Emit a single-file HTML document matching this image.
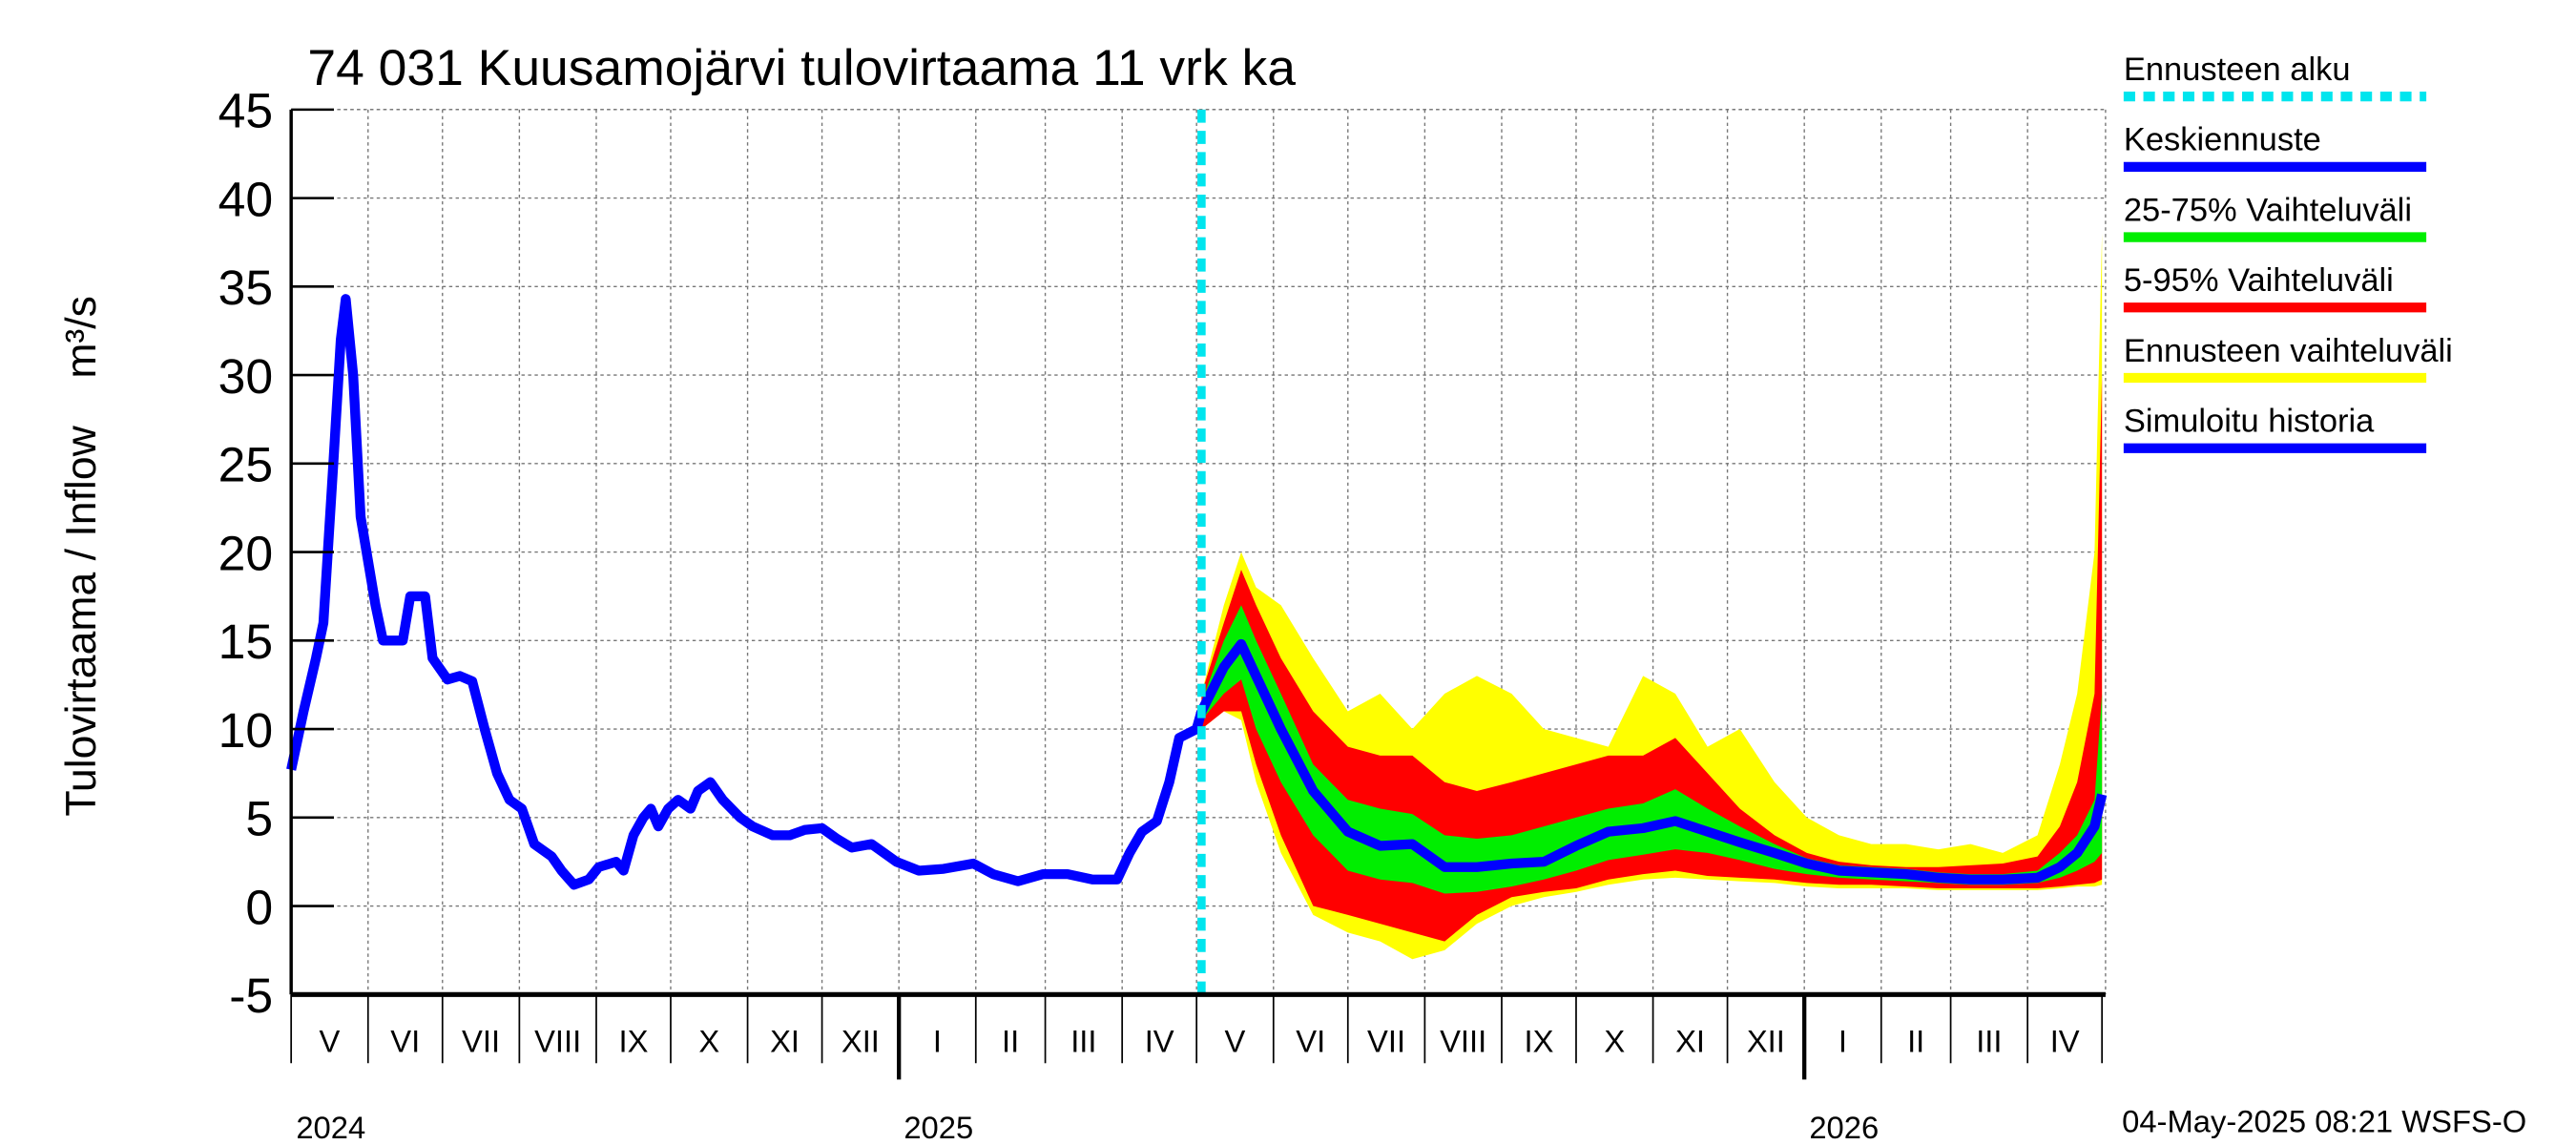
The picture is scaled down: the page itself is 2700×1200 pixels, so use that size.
<!DOCTYPE html>
<html><head><meta charset="utf-8"><style>
html,body{margin:0;padding:0;background:#fff;}
svg{display:block;font-family:"Liberation Sans",sans-serif;}
</style></head><body>
<svg id="chart" width="2700" height="1200" viewBox="0 0 1566 700" preserveAspectRatio="none" xmlns="http://www.w3.org/2000/svg">
<rect x="0" y="0" width="1566" height="700" fill="#fff"/>
<g id="grid"></g>
<g id="bands"></g>
<g id="lines"></g>
<g id="axes"></g>
<text x="187" y="52" font-size="31">74 031 Kuusamojärvi tulovirtaama 11 vrk ka</text>
<text transform="translate(58,340) rotate(-90)" text-anchor="middle" font-size="26" xml:space="preserve">Tulovirtaama / Inflow    m³/s</text>
<text x="1290" y="692" font-size="19">04-May-2025 08:21 WSFS-O</text>
<g id="legend"></g>
</svg>
<script>
const histDays=[0,5,10,13,17,20,22,25,28,34,37,42,45,48,54,57,63,68,73,78,83,88,93,98,105,109,114,120,124,131,134,138,142,145,148,152,156,161,164,169,174,181,186,194,201,207,214,220,226,234,244,253,263,275,283,293,303,313,323,333,338,343,349,354,358,365,367];
const histVals=[7.7,11,14,16,25,32,34.3,30,22,17,15,15,15,17.5,17.5,14,12.8,13,12.7,10,7.5,6,5.5,3.5,2.8,2,1.2,1.5,2.2,2.5,2,4,5,5.5,4.5,5.5,6,5.5,6.5,7,6,5,4.5,4,4,4.3,4.4,3.8,3.3,3.5,2.5,2.0,2.1,2.4,1.8,1.4,1.8,1.8,1.5,1.5,3,4.2,4.8,7,9.5,10,11];
const fcDays=[367,376,383,389,399,412,426,439,452,465,478,492,505,518,531,545,558,571,584,598,611,624,637,651,664,677,690,704,713,720,727,730];
const fcMedian=[11,13.5,14.8,13,10,6.5,4.2,3.4,3.5,2.2,2.2,2.4,2.5,3.4,4.2,4.4,4.8,4.2,3.6,3.0,2.4,2.0,1.9,1.8,1.6,1.5,1.5,1.6,2.2,3.0,4.5,6.3];
const fcP75=[11.5,15,17,15,12,8,6,5.5,5.2,4,3.8,4,4.5,5,5.5,5.8,6.6,5.5,4.5,3.5,2.7,2.3,2.2,2.1,1.9,1.8,1.8,2,3,4,6,12];
const fcP25=[10.5,12,12.8,10,7,4,2,1.5,1.3,0.7,0.8,1.1,1.5,2,2.6,2.9,3.2,3.0,2.6,2.1,1.8,1.6,1.5,1.4,1.3,1.2,1.2,1.3,1.6,2,2.5,3];
const fcP95=[12,16,19,17,14,11,9,8.5,8.5,7,6.5,7,7.5,8,8.5,8.5,9.5,7.5,5.5,4,3,2.5,2.3,2.2,2.2,2.3,2.4,2.8,4.5,7,12,30];
const fcP5=[10,11,11,8,4,0,-0.5,-1,-1.5,-2,-0.5,0.5,0.8,1,1.5,1.8,2,1.7,1.6,1.5,1.3,1.2,1.2,1.1,1,1,1,1,1.1,1.2,1.3,1.5];
const fcMax=[12,17,20,18,17,14,11,12,10,12,13,12,10,9.5,9,13,12,9,10,7,5,4,3.5,3.5,3.2,3.5,3,4,8,12,20,38];
const fcMin=[10,11,10.5,7,3,-0.5,-1.5,-2,-3,-2.5,-1,0,0.5,0.8,1.2,1.5,1.6,1.5,1.4,1.3,1.1,1,1,1,0.9,0.9,0.9,0.9,1,1.1,1.1,1.2];
const yTicks=[-5,0,5,10,15,20,25,30,35,40,45];
const monthNames=["I","II","III","IV","V","VI","VII","VIII","IX","X","XI","XII"];
const forecastStartDay=367;

const NS="http://www.w3.org/2000/svg";
const L=177,R=1280,T=67,B=608;
const x=d=>L+d*1.508;
const y=v=>T+(45-v)*(B-T)/50;
function mk(tag,attrs,parent){const e=document.createElementNS(NS,tag);for(const k in attrs)e.setAttribute(k,attrs[k]);parent.appendChild(e);return e;}
const grid=document.getElementById('grid'),axes=document.getElementById('axes'),bands=document.getElementById('bands'),lines=document.getElementById('lines'),legend=document.getElementById('legend');

yTicks.forEach(v=>{
  const g=mk('line',{x1:L,x2:R,y1:y(v),y2:y(v),stroke:'#777','stroke-width':0.8,'stroke-dasharray':'2,2'},grid);
  
  
  const t=mk('line',{x1:L,x2:L+26,y1:y(v),y2:y(v),stroke:'#000','stroke-width':1.5},axes);
  
  
  const lb=mk('text',{x:166,y:y(v)+11,'text-anchor':'end','font-size':30},axes);
  lb.textContent=v;
  
  
});
const start=new Date(Date.UTC(2024,4,1));
for(let m=0;m<=24;m++){
  const dt=new Date(Date.UTC(2024,4+m,1));
  const d=(dt-start)/864e5;
  const xx=x(d);
  const isYear=dt.getUTCMonth()===0;
  if(m>0&&m<24){
    const g=mk('line',{x1:xx,x2:xx,y1:T,y2:B,stroke:'#777','stroke-width':0.8,'stroke-dasharray':'2,2'},grid);
    
    
  }
  const tk=mk('line',{x1:xx,x2:xx,y1:B,y2:isYear?660:650,stroke:'#000','stroke-width':isYear?2.5:1},axes);
  
  
  if(m<24){
    const nd=new Date(Date.UTC(2024,5+m,1));const d2=(nd-start)/864e5;
    const lb=mk('text',{x:(x(d)+x(d2))/2,y:643,'text-anchor':'middle','font-size':19},axes);
    lb.textContent=monthNames[dt.getUTCMonth()];
    
    
  }
  if(m===0||isYear){
    const yl=mk('text',{x:xx+3,y:696,'font-size':19},axes);
    yl.textContent=dt.getUTCFullYear();
    
    
  }
}
mk('line',{x1:L,x2:R,y1:T,y2:T,stroke:'#777','stroke-width':0.8,'stroke-dasharray':'2,2'},grid);
mk('line',{x1:R,x2:R,y1:T,y2:B,stroke:'#777','stroke-width':0.8,'stroke-dasharray':'2,2'},grid);

function band(lo,hi,color,name){
  let p='M'+fcDays.map((d,i)=>x(d)+','+y(hi[i])).join(' L');
  p+=' L'+fcDays.map((d,i)=>[d,i]).reverse().map(([d,i])=>x(d)+','+y(lo[i])).join(' L')+' Z';
  const e=mk('path',{d:p,fill:color},bands);
  
  
}
band(fcMin,fcMax,'#ffff00','forecast-range-band');
band(fcP5,fcP95,'#ff0000','band-5-95');
band(fcP25,fcP75,'#00ee00','band-25-75');

const h=mk('polyline',{points:histDays.map((d,i)=>x(d)+','+y(histVals[i])).join(' '),fill:'none',stroke:'#0000ff','stroke-width':6,'stroke-linejoin':'round'},lines);


const md=mk('polyline',{points:fcDays.map((d,i)=>x(d)+','+y(fcMedian[i])).join(' '),fill:'none',stroke:'#0000ff','stroke-width':6,'stroke-linejoin':'round'},lines);


const fs=mk('line',{x1:x(forecastStartDay),x2:x(forecastStartDay),y1:T,y2:B,stroke:'#00e5ee','stroke-width':5,'stroke-dasharray':'8,5'},lines);



mk('line',{x1:L,x2:L,y1:T,y2:B,stroke:'#000','stroke-width':2},axes);
mk('line',{x1:L,x2:R,y1:B,y2:B,stroke:'#000','stroke-width':3},axes);

const legItems=[["Ennusteen alku","#00e5ee",true],["Keskiennuste","#0000ff",false],["25-75% Vaihteluväli","#00ee00",false],["5-95% Vaihteluväli","#ff0000",false],["Ennusteen vaihteluväli","#ffff00",false],["Simuloitu historia","#0000ff",false]];
legItems.forEach((it,i)=>{
  const yy=43+i*43;
  const t=mk('text',{x:1291,y:yy+6,'font-size':20},legend);
  t.textContent=it[0];
  
  
  const ln=mk('line',{x1:1291,x2:1475,y1:yy+16,y2:yy+16,stroke:it[1],'stroke-width':6},legend);
  if(it[2])ln.setAttribute('stroke-dasharray','7,5');
  
  
});
</script>
</body></html>
